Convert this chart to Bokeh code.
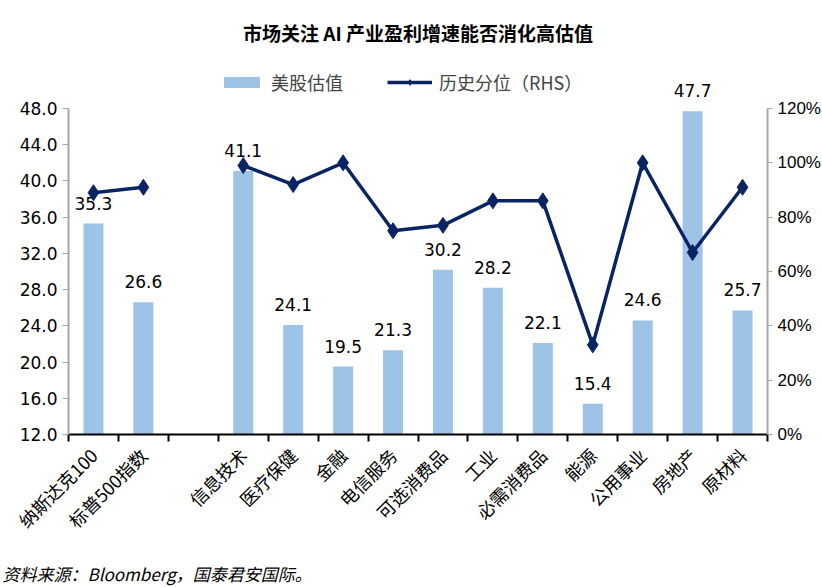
import math
from bokeh.plotting import figure
from bokeh.models import (ColumnDataSource, Range1d, LinearAxis, FixedTicker,
                          NumeralTickFormatter, Legend, LegendItem, Title)
from bokeh.core.properties import value
from bokeh.embed import file_html
from bokeh.resources import INLINE

categories = ["纳斯达克100", "标普500指数", "", "信息技术", "医疗保健", "金融", "电信服务",
              "可选消费品", "工业", "必需消费品", "能源", "公用事业", "房地产", "原材料"]
valuation = [35.3, 26.6, float("nan"), 41.1, 24.1, 19.5, 21.3, 30.2, 28.2, 22.1, 15.4, 24.6, 47.7, 25.7]
percentile = [0.89, 0.91, float("nan"), 0.99, 0.92, 1.00, 0.75, 0.77, 0.86, 0.86, 0.33, 1.00, 0.67, 0.91]
left_ticks = [12, 16, 20, 24, 28, 32, 36, 40, 44, 48]
right_ticks = [0, 0.2, 0.4, 0.6, 0.8, 1.0, 1.2]

CJK = "Noto Sans CJK SC"
NUM = "DejaVu Sans"
BAR = "#9DC3E6"
LINE = "#0A2463"

# axis area: 326 px for the value ranges; 48 px extra headroom for the legend
AX_H = 326
HEAD = 48
L_LO, L_HI = 12, 48
R_LO, R_HI = 0, 1.2
l_top = L_HI + HEAD * (L_HI - L_LO) / AX_H
r_top = R_HI + HEAD * (R_HI - R_LO) / AX_H

xs = [i + 0.5 for i in range(len(categories))]
labels = ["" if math.isnan(v) else f"{v:.1f}" for v in valuation]

src = ColumnDataSource(dict(x=xs, v=valuation, p=percentile, lab=labels))

p = figure(frame_width=699, frame_height=AX_H + HEAD, x_range=Range1d(0, len(categories)),
           y_range=Range1d(L_LO, l_top),
           output_backend="svg", toolbar_location=None, min_border_left=68,
           min_border_right=40, min_border_top=60, min_border_bottom=143)
p.outline_line_color = None
p.xgrid.visible = False
p.ygrid.visible = False
p.background_fill_color = "white"

p.title.text = "市场关注 AI 产业盈利增速能否消化高估值"
p.title.align = "center"
p.title.text_font = CJK
p.title.text_font_size = "19px"
p.title.text_font_style = "bold"
p.title.text_color = "#000000"
p.title.standoff = 30

p.extra_y_ranges = {"pct": Range1d(R_LO, r_top)}

bars = p.vbar(x="x", top="v", bottom=L_LO, width=0.4, source=src, color=BAR, line_color=None)
p.text(x="x", y="v", text="lab", source=src, text_align="center", text_baseline="bottom",
       y_offset=-14, text_font=value(NUM), text_font_size="17px", text_color="#000000")

ln = p.line(x="x", y="p", source=src, y_range_name="pct", line_color=LINE, line_width=3.5)
sc = p.scatter(x="x", y="p", source=src, y_range_name="pct", marker="diamond", size=16,
               fill_color=LINE, line_color=LINE)

# left axis
la = p.yaxis[0]
la.bounds = (L_LO, L_HI)
la.ticker = FixedTicker(ticks=left_ticks)
la.formatter = NumeralTickFormatter(format="0.0")
la.axis_line_color = "#A6A6A6"
la.axis_line_width = 2
la.major_tick_line_color = "#A6A6A6"
la.major_tick_out = 6
la.major_tick_in = 0
la.minor_tick_line_color = None
la.major_label_text_font = NUM
la.major_label_text_font_size = "17px"
la.major_label_text_color = "#000000"

# right axis
ra = LinearAxis(y_range_name="pct", ticker=FixedTicker(ticks=right_ticks),
                formatter=NumeralTickFormatter(format="0%"), bounds=(R_LO, R_HI))
ra.axis_line_color = "#A6A6A6"
ra.axis_line_width = 2
ra.major_tick_line_color = "#A6A6A6"
ra.major_tick_out = 5
ra.major_tick_in = 0
ra.minor_tick_line_color = None
ra.major_label_text_font = "Liberation Sans"
ra.major_label_text_font_size = "17px"
ra.major_label_text_color = "#000000"
p.add_layout(ra, "right")

# bottom axis
ba = p.xaxis[0]
ba.ticker = FixedTicker(ticks=xs, minor_ticks=list(range(len(categories) + 1)))
ba.major_label_overrides = {x: c for x, c in zip(xs, categories)}
ba.major_tick_out = 0
ba.major_tick_in = 0
ba.minor_tick_out = 7
ba.minor_tick_in = 0
ba.minor_tick_line_color = "#000000"
ba.minor_tick_line_width = 2
ba.axis_line_color = "#000000"
ba.axis_line_width = 2
ba.major_label_orientation = math.pi / 4
ba.major_label_text_font = CJK
ba.major_label_text_font_size = "18px"
ba.major_label_text_color = "#000000"
ba.major_label_standoff = 10

legend = Legend(items=[LegendItem(label="美股估值", renderers=[bars]),
                       LegendItem(label="历史分位（RHS）", renderers=[ln, sc])],
                orientation="horizontal", location=(151, AX_H + 13), border_line_color=None,
                label_text_font=CJK, label_text_font_size="18px", glyph_width=45,
                glyph_height=14, spacing=44, label_standoff=7, margin=0, padding=4,
                background_fill_alpha=0)
p.add_layout(legend)

foot = Title(text="资料来源：Bloomberg，国泰君安国际。", align="left", text_font=CJK,
             text_font_style="italic", text_font_size="17px", offset=-66, standoff=28,
             text_color="#000000")
p.add_layout(foot, "below")

open("out.html", "w").write(file_html(p, INLINE))
